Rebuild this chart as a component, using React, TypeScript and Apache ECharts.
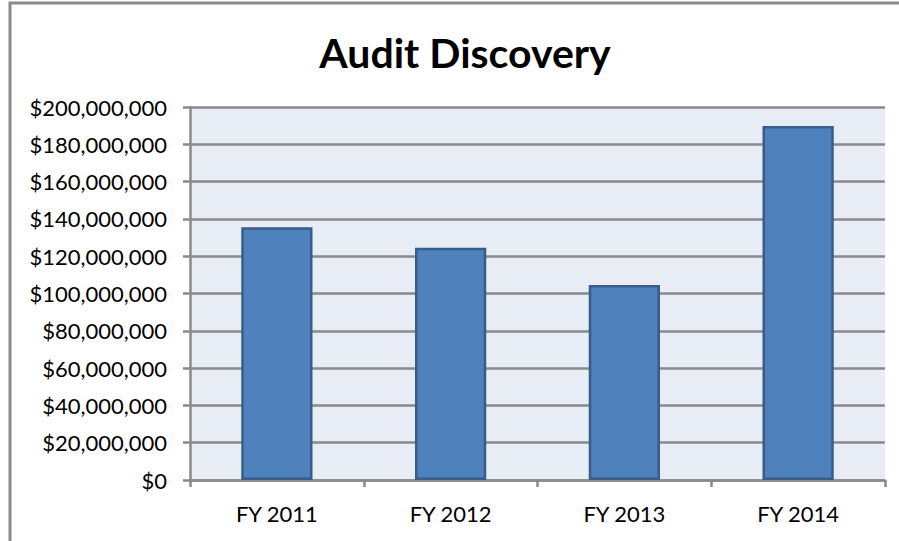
import React, { useEffect, useRef } from "react";
import * as echarts from "echarts";

const categories = ["FY 2011", "FY 2012", "FY 2013", "FY 2014"];
const values = [135500000, 124500000, 104500000, 189800000];
const titleText = "Audit Discovery";

export default function App() {
  const ref = useRef<HTMLDivElement>(null);
  useEffect(() => {
    document.body.style.margin = "0";
    const chart = echarts.init(ref.current!, null, { renderer: "svg" });
    const font = "Lato, 'Open Sans', sans-serif";
    chart.setOption({
      animation: false,
      backgroundColor: "#ffffff",
      title: {
        text: titleText,
        left: 460,
        textAlign: "center",
        top: 27,
        textStyle: { fontFamily: font, fontSize: 41, fontWeight: "bold", color: "#000" },
      },
      graphic: [
        {
          type: "rect",
          shape: { x: 10, y: 3, width: 920, height: 600 },
          style: { fill: "none", stroke: "#8a8a8a", lineWidth: 3 },
          silent: true,
        },
      ],
      grid: {
        left: 190,
        right: 14,
        top: 107,
        bottom: 61,
        show: true,
        backgroundColor: "#E8ECF5",
        borderWidth: 0,
      },
      xAxis: {
        type: "category",
        data: categories,
        axisLine: { lineStyle: { color: "#8a8a8a", width: 2.5 } },
        axisTick: { show: true, length: 7, lineStyle: { color: "#8a8a8a", width: 2.5 } },
        axisLabel: { fontFamily: font, fontSize: 22, color: "#000", margin: 22 },
      },
      yAxis: {
        type: "value",
        min: 0,
        max: 200000000,
        interval: 20000000,
        axisLine: { show: true, lineStyle: { color: "#8a8a8a", width: 2.5 } },
        axisTick: { show: true, length: 7, lineStyle: { color: "#8a8a8a", width: 2.5 } },
        splitLine: { lineStyle: { color: "#8a8a8a", width: 2.5 } },
        axisLabel: {
          fontFamily: font,
          fontSize: 22,
          color: "#000",
          margin: 23,
          formatter: (v: number) => "$" + v.toLocaleString("en-US"),
        },
      },
      series: [
        {
          type: "bar",
          data: values,
          barWidth: "41%",
          itemStyle: { color: "#4F81BD", borderColor: "#385D8A", borderWidth: 2.5 },
        },
      ],
    });
    return () => chart.dispose();
  }, []);
  return <div ref={ref} style={{ width: 899, height: 541 }} />;
}
